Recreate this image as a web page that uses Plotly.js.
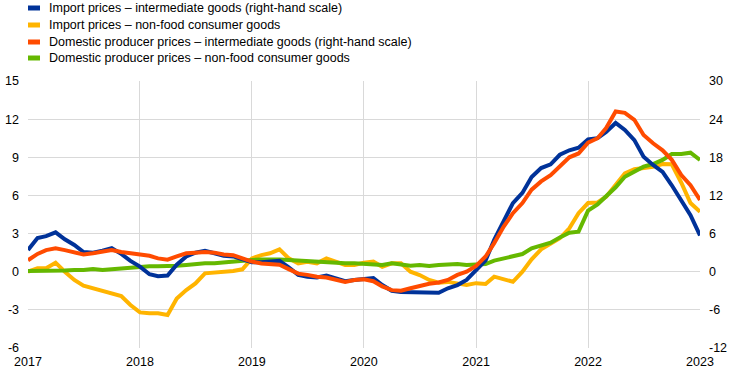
<!DOCTYPE html>
<html>
<head>
<meta charset="utf-8">
<script src="https://cdn.plot.ly/plotly-3.0.1.min.js"></script>
<style>
html,body{margin:0;padding:0;background:#fff;}
#chart{width:744px;height:377px;}
</style>
</head>
<body>
<div id="chart"></div>
<script>
// Monthly observations, January 2017 to January 2023
const startYear = 2017;
const nMonths = 73;

const seriesNames = [
  "Import prices \u2013 intermediate goods (right-hand scale)",
  "Import prices \u2013 non-food consumer goods",
  "Domestic producer prices \u2013 intermediate goods (right-hand scale)",
  "Domestic producer prices \u2013 non-food consumer goods"
];
const seriesColors = ["#003299", "#ffb400", "#ff4b00", "#65b800"];

// right-hand scale
const importIntermediate = [
  3.4, 5.3, 5.6, 6.2, 5.1, 4.2, 3.1, 3.0, 3.3, 3.7, 2.8, 1.7,
  0.8, -0.4, -0.7, -0.6, 1.1, 2.4, 3.0, 3.3, 2.9, 2.5, 2.4, 1.9,
  1.5, 1.5, 1.6, 1.7, 0.7, -0.5, -0.8, -0.9, -0.6, -1.1, -1.5, -1.3,
  -1.1, -1.0, -2.1, -3.0, -3.2, -3.2, -3.2, -3.3, -3.3, -2.6, -2.1, -1.3,
  0.3, 1.8, 5.0, 8.1, 10.8, 12.4, 14.9, 16.3, 16.9, 18.4, 19.1, 19.5,
  20.8, 21.0, 22.0, 23.4, 22.3, 20.7, 18.1, 16.8, 15.7, 13.6, 11.3, 8.9,
  5.7
];
// left-hand scale
const importConsumer = [
  0.0, 0.27, 0.27, 0.71, 0.0, -0.65, -1.1, -1.31, -1.52, -1.78, -1.91, -2.62,
  -3.2, -3.27, -3.27, -3.4, -2.1, -1.44, -0.92, -0.13, -0.08, 0.0, 0.05, 0.19,
  1.05, 1.31, 1.45, 1.76, 1.05, 0.66, 0.79, 0.66, 1.05, 0.79, 0.53, 0.53,
  0.71, 0.79, 0.39, 0.66, 0.66, 0.0, -0.26, -0.65, -0.86, -0.8, -0.92, -1.05,
  -0.9, -0.97, -0.39, -0.6, -0.79, 0.0, 0.97, 1.76, 2.18, 2.63, 3.41, 4.6,
  5.4, 5.45, 5.9, 6.82, 7.74, 8.06, 8.13, 8.26, 8.47, 8.45, 7.0, 5.4,
  4.72
];
// right-hand scale
const domesticIntermediate = [
  1.8, 2.8, 3.4, 3.7, 3.4, 3.0, 2.7, 2.9, 3.1, 3.4, 3.1, 2.9,
  2.7, 2.5, 2.1, 1.9, 2.4, 2.9, 3.0, 3.1, 3.0, 2.7, 2.6, 2.1,
  1.6, 1.3, 1.2, 1.1, 0.4, -0.3, -0.5, -0.8, -0.9, -1.2, -1.6, -1.3,
  -1.2, -1.5, -2.3, -2.9, -3.0, -2.6, -2.2, -1.9, -1.7, -1.3, -0.5, 0.0,
  0.9, 2.4, 4.5, 7.1, 9.2, 10.8, 12.9, 14.2, 15.2, 16.5, 18.0, 18.6,
  20.3, 21.0, 22.6, 25.2, 25.0, 23.9, 21.5, 20.2, 19.1, 17.6, 15.2, 13.6,
  11.3
];
// left-hand scale
const domesticConsumer = [
  0.05, 0.05, 0.05, 0.05, 0.1, 0.13, 0.13, 0.21, 0.13, 0.2, 0.27, 0.35,
  0.42, 0.42, 0.42, 0.42, 0.47, 0.53, 0.6, 0.66, 0.66, 0.74, 0.79, 0.84,
  0.92, 0.97, 1.0, 0.97, 0.92, 0.87, 0.79, 0.74, 0.74, 0.71, 0.66, 0.66,
  0.6, 0.58, 0.53, 0.66, 0.53, 0.47, 0.53, 0.45, 0.53, 0.6, 0.6, 0.53,
  0.6, 0.6, 0.87, 1.05, 1.24, 1.39, 1.84, 2.1, 2.28, 2.7, 3.07, 3.15,
  4.8, 5.3, 5.9, 6.64, 7.47, 7.87, 8.26, 8.47, 8.79, 9.26, 9.26, 9.36,
  8.79
];

const yearTicks = ["2017", "2018", "2019", "2020", "2021", "2022", "2023"];
const leftTicks = [-6, -3, 0, 3, 6, 9, 12, 15];
const rightTicks = [-12, -6, 0, 6, 12, 18, 24, 30];

const dates = [];
for (let i = 0; i < nMonths; i++) {
  const y = startYear + Math.floor(i / 12);
  const m = (i % 12) + 1;
  dates.push(y + "-" + String(m).padStart(2, "0") + "-01");
}

const FONT = "Arial, 'Liberation Sans', sans-serif";
const LW = 4;

const traces = [
  {x: dates, y: importIntermediate, yaxis: "y2", name: seriesNames[0], color: seriesColors[0]},
  {x: dates, y: importConsumer, yaxis: "y", name: seriesNames[1], color: seriesColors[1]},
  {x: dates, y: domesticIntermediate, yaxis: "y2", name: seriesNames[2], color: seriesColors[2]},
  {x: dates, y: domesticConsumer, yaxis: "y", name: seriesNames[3], color: seriesColors[3]}
].map(t => ({
  type: "scatter", mode: "lines", x: t.x, y: t.y, yaxis: t.yaxis, name: t.name,
  line: {color: t.color, width: LW}, showlegend: false, hoverinfo: "skip"
}));

// custom legend (pixel rows converted to paper coords)
const M = {l: 28, r: 44, t: 81, b: 29};
const W = 744, H = 377;
const pw = W - M.l - M.r, ph = H - M.t - M.b;
const px2x = px => (px - M.l) / pw;
const py2y = py => (H - M.b - py) / ph;
const rowY = [8, 25, 42, 58];

const shapes = [], annotations = [];
seriesNames.forEach((nm, i) => {
  shapes.push({
    type: "rect", xref: "paper", yref: "paper",
    x0: px2x(28), x1: px2x(40), y0: py2y(rowY[i] + 2.5), y1: py2y(rowY[i] - 2.5),
    fillcolor: seriesColors[i], line: {width: 0}
  });
  annotations.push({
    xref: "paper", yref: "paper", x: px2x(47), y: py2y(rowY[i]),
    xanchor: "left", yanchor: "middle", showarrow: false, text: nm,
    font: {family: FONT, size: 12.5, color: "#000"}
  });
});

const layout = {
  width: W, height: H,
  margin: M,
  paper_bgcolor: "#fff", plot_bgcolor: "#fff",
  showlegend: false,
  font: {family: FONT, size: 12, color: "#000"},
  xaxis: {
    type: "date", range: ["2017-01-01", "2023-01-01"],
    tickvals: yearTicks.map(y => y + "-01-01"), ticktext: yearTicks,
    showgrid: true, gridcolor: "#d9d9d9", gridwidth: 1,
    zeroline: false, showline: false, ticks: "", ticklabelstandoff: 4,
    tickfont: {family: FONT, size: 12.5, color: "#000"}
  },
  yaxis: {
    range: [-6, 15], tickvals: leftTicks, ticktext: leftTicks.map(String),
    showgrid: true, gridcolor: "#d9d9d9", gridwidth: 1,
    zeroline: false, showline: false, ticks: "", ticklabelstandoff: 8,
    tickfont: {family: FONT, size: 12.5, color: "#000"}
  },
  yaxis2: {
    overlaying: "y", side: "right",
    range: [-12, 30], tickvals: rightTicks, ticktext: rightTicks.map(String),
    showgrid: false, zeroline: false, showline: false, ticks: "", ticklabelstandoff: 8,
    tickfont: {family: FONT, size: 12.5, color: "#000"}
  },
  shapes: shapes,
  annotations: annotations
};

Plotly.newPlot("chart", traces, layout, {displayModeBar: false, staticPlot: true});
</script>
</body>
</html>
